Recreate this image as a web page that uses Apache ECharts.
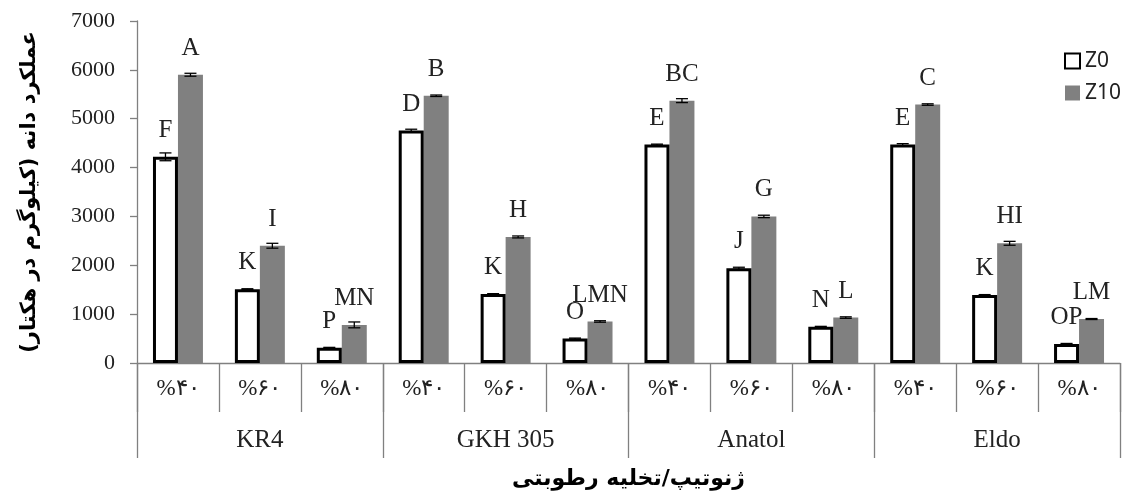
<!DOCTYPE html>
<html>
<head>
<meta charset="utf-8">
<script src="https://cdn.jsdelivr.net/npm/echarts@6/dist/echarts.min.js"></script>
<style>
html,body{margin:0;padding:0;background:#fff;}
#chart{width:1127px;height:495px;}
</style>
</head>
<body>
<div id="chart"></div>
<script>
const categories = ['%۴۰','%۶۰','%۸۰','%۴۰','%۶۰','%۸۰','%۴۰','%۶۰','%۸۰','%۴۰','%۶۰','%۸۰'];
const groups = ['KR4','GKH 305','Anatol','Eldo'];
const yTicks = [0,1000,2000,3000,4000,5000,6000,7000];
const z0 = [4220, 1510, 310, 4760, 1410, 500, 4470, 1940, 740, 4470, 1390, 390];
const z10 = [5900, 2400, 780, 5470, 2580, 850, 5370, 3000, 930, 5290, 2450, 900];
const errZ0 = [80, 10, 10, 25, 10, 10, 10, 20, 10, 20, 10, 10];
const errZ10 = [30, 50, 60, 15, 20, 15, 40, 25, 15, 15, 40, 10];
const lettersZ0 = ['F','K','P','D','K','O','E','J','N','E','K','OP'];
const lettersZ10 = ['A','I','MN','B','H','LMN','BC','G','L','C','HI','LM'];

const CAT_GAP = 0.39;
const axisColor = '#808080';
const serif = '"Liberation Serif", "Times New Roman", "DejaVu Serif", serif';

function errRender(side) {
  return function (params, api) {
    const x = api.value(0), v = api.value(1), e = api.value(2);
    const band = api.size([1, 0])[0];
    const bw = band * (1 - CAT_GAP) / 2;
    const off = side * bw / 2;
    const pt = api.coord([x, v + e]);
    const pb = api.coord([x, v - e]);
    const cx = pt[0] + off;
    const cap = 6;
    const st = { stroke: '#000', lineWidth: 1.3 };
    return {
      type: 'group',
      children: [
        { type: 'line', shape: { x1: cx, y1: pt[1], x2: cx, y2: pb[1] }, style: st },
        { type: 'line', shape: { x1: cx - cap, y1: pt[1], x2: cx + cap, y2: pt[1] }, style: st },
        { type: 'line', shape: { x1: cx - cap, y1: pb[1], x2: cx + cap, y2: pb[1] }, style: st }
      ]
    };
  };
}

const chart = echarts.init(document.getElementById('chart'));
chart.setOption({
  animation: false,
  backgroundColor: '#fff',
  grid: { left: 137, right: 7, top: 21, bottom: 132, containLabel: false },
  legend: {
    orient: 'vertical',
    left: 1059, top: 45,
    itemWidth: 15, itemHeight: 15, itemGap: 10,
    textStyle: { fontFamily: '"Noto Sans", "Open Sans", sans-serif', fontSize: 21, color: '#222', lineHeight: 22 },
    data: [{ name: 'Z0', icon: 'rect' }, { name: 'Z10', icon: 'rect' }]
  },
  xAxis: [
    {
      type: 'category', data: categories, position: 'bottom',
      axisLine: { show: true, lineStyle: { color: axisColor, width: 1.3 } },
      axisTick: { show: true, length: 49, interval: 0, alignWithLabel: false, lineStyle: { color: axisColor, width: 1.3 } },
      axisLabel: { interval: 0, margin: 14, fontFamily: serif, fontSize: 23, color: '#222' }
    },
    {
      type: 'category', data: groups, position: 'bottom',
      axisLine: { show: false },
      axisTick: { show: true, length: 95, interval: 0, alignWithLabel: false, lineStyle: { color: axisColor, width: 1.3 } },
      axisLabel: { interval: 0, margin: 65, fontFamily: serif, fontSize: 25, color: '#222' },
      name: 'ژنوتیپ/تخلیه رطوبتی',
      nameLocation: 'middle', nameGap: 105,
      nameTextStyle: { fontFamily: '"DejaVu Sans", sans-serif', fontWeight: 'bold', fontSize: 22, color: '#000' }
    }
  ],
  yAxis: {
    type: 'value', min: 0, max: 7000, interval: 1000,
    axisLine: { show: true, lineStyle: { color: axisColor, width: 1.3 } },
    axisTick: { show: true, length: 7, lineStyle: { color: axisColor, width: 1.3 } },
    splitLine: { show: false },
    axisLabel: { margin: 22, fontFamily: serif, fontSize: 22, color: '#222',
      formatter: function (v) { return yTicks.indexOf(v) >= 0 ? String(v) : ''; } },
    name: 'عملکرد دانه (کیلوگرم در هکتار)',
    nameLocation: 'middle', nameRotate: 90, nameGap: 97,
    nameTextStyle: { fontFamily: '"DejaVu Sans", sans-serif', fontWeight: 'bold', fontSize: 21, color: '#000' }
  },
  series: [
    {
      name: 'Z0', type: 'bar', xAxisIndex: 0, data: z0, z: 3,
      barGap: '0%', barCategoryGap: (CAT_GAP * 100) + '%',
      itemStyle: { color: '#fff', borderColor: '#000', borderWidth: 3 },
      label: { show: true, position: 'top', distance: 14, fontFamily: serif, fontSize: 25, color: '#222',
        formatter: function (p) { return lettersZ0[p.dataIndex]; } }
    },
    {
      name: 'Z10', type: 'bar', xAxisIndex: 0, data: z10, z: 2,
      barGap: '0%', barCategoryGap: (CAT_GAP * 100) + '%',
      itemStyle: { color: '#808080' },
      label: { show: true, position: 'top', distance: 14, fontFamily: serif, fontSize: 25, color: '#222',
        formatter: function (p) { return lettersZ10[p.dataIndex]; } }
    },
    {
      type: 'custom', xAxisIndex: 0, z: 4, silent: true,
      renderItem: errRender(-1),
      encode: { x: 0, y: 1 },
      data: z0.map(function (v, i) { return [i, v, errZ0[i]]; })
    },
    {
      type: 'custom', xAxisIndex: 0, z: 4, silent: true,
      renderItem: errRender(1),
      encode: { x: 0, y: 1 },
      data: z10.map(function (v, i) { return [i, v, errZ10[i]]; })
    }
  ]
});
</script>
</body>
</html>
